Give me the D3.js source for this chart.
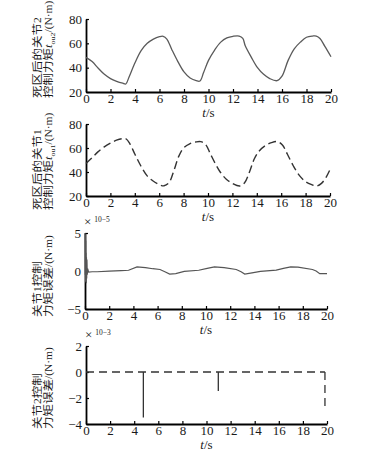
<!DOCTYPE html>
<html>
<head>
<meta charset="utf-8">
<script src="https://cdn.jsdelivr.net/npm/d3@7"></script>
<style>
  body { margin: 0; background: #fff; }
  svg { display: block; }
  .tick text { font-family: "Liberation Serif", serif; font-size: 13px; fill: #1a1a1a; }
</style>
</head>
<body>
<div id="chart"></div>
<script>
// joint 2 torque after dead zone (N·m)
const tau2T = [0, 0.5, 1, 1.5, 2, 2.5, 3, 3.25, 3.5, 4, 4.5, 5, 5.5, 6, 6.3, 6.6, 7, 7.5, 8, 8.5, 9, 9.3, 9.6, 10, 10.5, 11, 11.5, 12, 12.5, 12.8, 13, 13.5, 14, 14.5, 15, 15.6, 16, 16.5, 17, 17.5, 18, 18.5, 18.8, 19.1, 19.5, 20];
const tau2V = [48.5, 45, 39.5, 34.5, 31, 28.8, 27.2, 26.6, 32, 44, 54, 60, 63.5, 65.5, 65.8, 63.5, 55, 45, 36.5, 31.5, 29.3, 29, 36, 46, 54.5, 61, 64.5, 65.8, 66, 64, 58, 48.5, 40, 34.5, 31, 29.3, 33, 46, 55.5, 61, 65, 66, 66, 64, 57.5, 49];

// joint 1 torque after dead zone (N·m)
const tau1T = [0, 0.5, 1, 1.5, 2, 2.5, 3, 3.3, 3.6, 4, 4.5, 5, 5.5, 6, 6.4, 6.8, 7.2, 7.6, 8, 8.5, 9, 9.4, 9.8, 10.2, 10.6, 11, 11.5, 12, 12.6, 13, 13.4, 13.8, 14.2, 14.7, 15.2, 15.7, 16.1, 16.5, 17, 17.5, 18, 18.5, 18.9, 19.3, 19.7, 20];
const tau1V = [47, 52, 57, 61, 64, 66.5, 67.8, 67.5, 63.5, 55, 45, 37, 32.5, 29.5, 28.5, 31, 41, 53, 60, 63.5, 65, 65.3, 63, 55, 47, 40, 34, 30.5, 28.3, 31, 40, 51, 57.5, 62, 64.5, 65.3, 62.5, 55, 45, 37, 32, 29.5, 28.3, 30.5, 36, 42];

// joint 1 torque error (x1e-5 N·m)
const err1T = [0, 0.015, 0.03, 0.045, 0.06, 0.075, 0.09, 0.105, 0.12, 0.14, 0.16, 0.19, 0.22, 0.3, 0.6, 1, 2, 3, 3.6, 4.3, 5, 5.6, 6.2, 6.6, 7, 7.5, 8.2, 9.4, 10.1, 10.7, 11.5, 12.5, 12.9, 13.2, 13.8, 14.5, 15.8, 16.4, 17, 17.6, 18.8, 19.1, 19.4, 20];
const err1V = [5, -0.5, 4.8, -1.4, 4, -1.2, 2.4, -1.6, 1.8, -1, 1.5, -0.5, 0.3, -0.15, -0.1, -0.1, -0.02, 0.05, 0.1, 0.55, 0.45, 0.3, 0.2, -0.1, -0.4, -0.35, -0.05, 0.1, 0.35, 0.55, 0.45, 0.2, -0.1, -0.4, -0.25, -0.05, 0.12, 0.35, 0.55, 0.5, 0.2, 0.0, -0.35, -0.35];

// joint 2 torque error (x1e-3 N·m)
const err2BaseT = [0, 19.83];
const err2BaseV = [0, 0];
const err2SpikeT = [4.76, 10.98, 19.83];
const err2SpikeV = [-3.5, -1.46, -2.74];

const xTicks = [0, 2, 4, 6, 8, 10, 12, 14, 16, 18, 20];

const W = 371, H = 457;
const svg = d3.select("#chart").append("svg")
  .attr("width", W)
  .attr("height", H);

const panels = [
  { x0: 86, x1: 331, top: 19, bot: 92, yDom: [20, 80], yTicks: [20, 40, 60, 80], labBot: 98,
    line1: [["死区后的关节", "c"], ["2", "l"]],
    line2: [["控制力矩", "c"], ["t", "i"], ["ou2", "s"], ["/(N·m)", "l"]] },
  { x0: 86, x1: 330, top: 124, bot: 196, yDom: [20, 80], yTicks: [20, 40, 60, 80], labBot: 210,
    line1: [["死区后的关节", "c"], ["1", "l"]],
    line2: [["控制力矩", "c"], ["t", "i"], ["ou1", "s"], ["/(N·m)", "l"]] },
  { x0: 85, x1: 327, top: 233, bot: 309, yDom: [-5, 5], yTicks: [-5, 0, 5], labBot: 317,
    line1: [["关节", "c"], ["1", "l"], ["控制", "c"]],
    line2: [["力矩误差", "c"], ["/(N·m)", "l"]], expo: "10−5" },
  { x0: 86, x1: 327, top: 346, bot: 424, yDom: [-4, 2], yTicks: [-4, -2, 0, 2], labBot: 429,
    line1: [["关节", "c"], ["2", "l"], ["控制", "c"]],
    line2: [["力矩误差", "c"], ["/(N·m)", "l"]], expo: "10−3" }
];

// squeeze factor across the rotated label lines
const SQ = 0.82;

function addRuns(text, runs) {
  let shifted = false;
  runs.forEach(([s, kind]) => {
    const ts = text.append("tspan").text(s);
    if (kind === "c") ts.style("font-family", "'Noto Sans CJK SC', sans-serif").style("font-size", "12.5px");
    else ts.style("font-family", "'Liberation Serif', serif").style("font-size", "11.5px");
    if (kind === "i") ts.style("font-style", "italic").style("font-size", "12.5px");
    if (kind === "s") { ts.attr("dy", 2.5).style("font-size", "8px"); shifted = true; }
    else if (shifted) { ts.attr("dy", -2.5); shifted = false; }
  });
}

panels.forEach(p => {
  p.x = d3.scaleLinear().domain([0, 20]).range([p.x0, p.x1]);
  p.y = d3.scaleLinear().domain(p.yDom).range([p.bot, p.top]);
  const g = svg.append("g");

  g.append("g")
    .attr("transform", `translate(0,${p.bot})`)
    .call(d3.axisBottom(p.x).tickValues(xTicks).tickSizeInner(-3).tickSizeOuter(0).tickPadding(2).tickFormat(d3.format("d")))
    .call(a => a.select(".domain").attr("stroke-width", 1.8))
    .call(a => a.selectAll(".tick line").attr("stroke-width", 1.2));

  g.append("g")
    .attr("transform", `translate(${p.x0},0)`)
    .call(d3.axisLeft(p.y).tickValues(p.yTicks).tickSizeInner(-3).tickSizeOuter(0).tickPadding(4).tickFormat(d3.format("d")))
    .call(a => a.select(".domain").attr("stroke-width", 1.8))
    .call(a => a.selectAll(".tick line").attr("stroke-width", 1.2));

  // x label
  const xl = svg.append("text")
    .attr("x", (p.x0 + p.x1) / 2)
    .attr("y", p.bot + 25)
    .attr("text-anchor", "middle")
    .style("font-family", "'Liberation Serif', serif")
    .style("font-size", "13px")
    .style("fill", "#1a1a1a");
  xl.append("tspan").style("font-style", "italic").text("t");
  xl.append("tspan").text("/s");

  // y label, two lines, rotated and slightly squeezed
  const yl = svg.append("g")
    .attr("transform", `translate(0,${p.labBot}) rotate(-90) scale(1,${SQ})`)
    .style("fill", "#1a1a1a");
  addRuns(yl.append("text").attr("x", 0).attr("y", 41 / SQ), p.line1);
  addRuns(yl.append("text").attr("x", 0).attr("y", 52.5 / SQ), p.line2);

  if (p.expo) {
    const ex = svg.append("text")
      .attr("x", p.x0 - 1)
      .attr("y", p.top - 7)
      .style("font-family", "'Liberation Serif', serif")
      .style("font-size", "13px")
      .style("fill", "#1a1a1a");
    ex.append("tspan").text("×");
    ex.append("tspan").attr("dx", 3).attr("dy", -4).style("font-size", "7.5px").text(p.expo);
  }
});

const line = (p) => d3.line()
  .x(d => p.x(d[0]))
  .y(d => p.y(d[1]));

const zip = (a, b) => a.map((t, i) => [t, b[i]]);

// panel 1
svg.append("path")
  .datum(zip(tau2T, tau2V))
  .attr("d", line(panels[0]).curve(d3.curveCatmullRom))
  .attr("fill", "none")
  .attr("stroke", "#5a5a5a")
  .attr("stroke-width", 1.3);

// panel 2
svg.append("path")
  .datum(zip(tau1T, tau1V))
  .attr("d", line(panels[1]).curve(d3.curveCatmullRom))
  .attr("fill", "none")
  .attr("stroke", "#333")
  .attr("stroke-width", 1.4)
  .attr("stroke-dasharray", "8,4");

// panel 3
svg.append("path")
  .datum(zip(err1T, err1V))
  .attr("d", line(panels[2]))
  .attr("fill", "none")
  .attr("stroke", "#555")
  .attr("stroke-width", 1.2);

// panel 4
svg.append("path")
  .datum(zip(err2BaseT, err2BaseV))
  .attr("d", line(panels[3]))
  .attr("fill", "none")
  .attr("stroke", "#333")
  .attr("stroke-width", 1.3)
  .attr("stroke-dasharray", "8,5");

svg.selectAll(".spike")
  .data(zip(err2SpikeT, err2SpikeV))
  .enter().append("line")
  .attr("class", "spike")
  .attr("x1", d => panels[3].x(d[0]))
  .attr("x2", d => panels[3].x(d[0]))
  .attr("y1", panels[3].y(0))
  .attr("y2", d => panels[3].y(d[1]))
  .attr("stroke", "#333")
  .attr("stroke-width", 1.3)
  .attr("stroke-dasharray", (d, i) => i === err2SpikeT.length - 1 ? "8,5" : null);
</script>
</body>
</html>
